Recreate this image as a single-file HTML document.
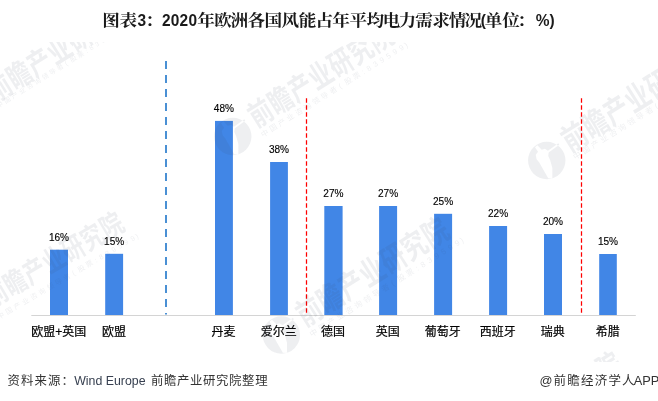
<!DOCTYPE html>
<html lang="zh-CN">
<head>
<meta charset="utf-8">
<title>图表3：2020年欧洲各国风能占年平均电力需求情况</title>
<style>
html,body{margin:0;padding:0;background:#fff;}
body{width:658px;height:401px;overflow:hidden;position:relative;}
svg{display:block;position:absolute;left:0;top:0;}
.t{font-family:"Liberation Sans","Noto Serif CJK SC",serif;font-weight:700;font-size:16px;fill:#1a1a1a;}
.tl{font-size:17px;}
.v{font-family:"Liberation Sans","DejaVu Sans",sans-serif;font-size:10.9px;fill:#000;stroke:#000;stroke-width:0.15px;}
.c{font-family:"Liberation Sans","Noto Sans CJK SC",sans-serif;font-size:12px;fill:#000;stroke:#000;stroke-width:0.2px;}
.f{font-family:"Liberation Sans","Noto Sans CJK SC",sans-serif;font-size:13.05px;fill:#333;}
.w1{font-family:"Liberation Sans","Noto Sans CJK SC",sans-serif;font-weight:700;font-size:30px;}
.w2{font-family:"Liberation Sans","Noto Sans CJK SC",sans-serif;font-size:7.5px;}
</style>
</head>
<body>
<svg width="658" height="401" viewBox="0 0 658 401">
<defs><clipPath id="wmclip"><rect x="0" y="42" width="658" height="320"/></clipPath></defs>
<rect width="658" height="401" fill="#fff"/>
<g id="title"><text class="t" transform="scale(1.1,1)" y="26.3" x="93.00 108.55">图表</text><text class="t tl" transform="scale(0.91,1)" y="25.9" x="150.99">3</text><text class="t" transform="scale(1.1,1)" y="26.3" x="132.07">：</text><text class="t tl" transform="scale(0.91,1)" y="25.9" x="178.08 187.64 197.36 207.14">2020</text><text class="t" transform="scale(1.1,1)" y="26.3" x="179.27 194.73 209.64 224.91 240.55 255.91 271.64 286.91 302.09 317.64 333.09 347.91 362.27 377.55 393.00 407.91 422.27">年欧洲各国风能占年平均电力需求情况</text><text class="t tl" transform="scale(0.91,1)" y="25.9" x="528.27">(</text><text class="t" transform="scale(1.1,1)" y="26.3" x="440.73 456.55 470.25">单位：</text><text class="t tl" transform="scale(0.91,1)" y="25.9" x="588.65 603.82">%)</text></g>
<line x1="31.3" y1="315.5" x2="635.8" y2="315.5" stroke="#d4d4d4" stroke-width="1"/>
<line x1="166" y1="61" x2="166" y2="314.5" stroke="#4a90d4" stroke-width="2" stroke-dasharray="8,6"/>
<line x1="306.5" y1="98.2" x2="306.5" y2="313" stroke="#f00" stroke-width="1.25" stroke-dasharray="4.6,2.4"/>
<line x1="581.5" y1="98.2" x2="581.5" y2="313" stroke="#f00" stroke-width="1.25" stroke-dasharray="4.6,2.4"/>
<rect x="50.0" y="249.7" width="18.0" height="65.3" fill="#4186e6"/>
<text class="v" x="59.0" y="240.7" text-anchor="middle" textLength="20.2" lengthAdjust="spacingAndGlyphs">16%</text>
<text class="c" x="58.7" y="336.0" text-anchor="middle">欧盟+英国</text>
<rect x="105.2" y="253.8" width="17.9" height="61.2" fill="#4186e6"/>
<text class="v" x="114.2" y="244.8" text-anchor="middle" textLength="20.2" lengthAdjust="spacingAndGlyphs">15%</text>
<text class="c" x="113.9" y="336.0" text-anchor="middle">欧盟</text>
<rect x="215.0" y="120.9" width="17.9" height="194.1" fill="#4186e6"/>
<text class="v" x="223.9" y="111.9" text-anchor="middle" textLength="20.2" lengthAdjust="spacingAndGlyphs">48%</text>
<text class="c" x="223.6" y="336.0" text-anchor="middle">丹麦</text>
<rect x="270.1" y="162.0" width="17.8" height="153.0" fill="#4186e6"/>
<text class="v" x="279.0" y="153.0" text-anchor="middle" textLength="20.2" lengthAdjust="spacingAndGlyphs">38%</text>
<text class="c" x="278.7" y="336.0" text-anchor="middle">爱尔兰</text>
<rect x="324.3" y="206.0" width="18.3" height="109.0" fill="#4186e6"/>
<text class="v" x="333.4" y="197.0" text-anchor="middle" textLength="20.2" lengthAdjust="spacingAndGlyphs">27%</text>
<text class="c" x="333.1" y="336.0" text-anchor="middle">德国</text>
<rect x="379.1" y="206.0" width="18.0" height="109.0" fill="#4186e6"/>
<text class="v" x="388.1" y="197.0" text-anchor="middle" textLength="20.2" lengthAdjust="spacingAndGlyphs">27%</text>
<text class="c" x="387.8" y="336.0" text-anchor="middle">英国</text>
<rect x="434.1" y="213.8" width="18.0" height="101.2" fill="#4186e6"/>
<text class="v" x="443.1" y="204.8" text-anchor="middle" textLength="20.2" lengthAdjust="spacingAndGlyphs">25%</text>
<text class="c" x="442.8" y="336.0" text-anchor="middle">葡萄牙</text>
<rect x="489.1" y="226.0" width="18.0" height="89.0" fill="#4186e6"/>
<text class="v" x="498.1" y="217.0" text-anchor="middle" textLength="20.2" lengthAdjust="spacingAndGlyphs">22%</text>
<text class="c" x="497.8" y="336.0" text-anchor="middle">西班牙</text>
<rect x="544.0" y="234.0" width="18.0" height="81.0" fill="#4186e6"/>
<text class="v" x="553.0" y="225.0" text-anchor="middle" textLength="20.2" lengthAdjust="spacingAndGlyphs">20%</text>
<text class="c" x="552.7" y="336.0" text-anchor="middle">瑞典</text>
<rect x="599.2" y="254.0" width="17.6" height="61.0" fill="#4186e6"/>
<text class="v" x="608.0" y="245.0" text-anchor="middle" textLength="20.2" lengthAdjust="spacingAndGlyphs">15%</text>
<text class="c" x="607.7" y="336.0" text-anchor="middle">希腊</text>
<g id="wm" clip-path="url(#wmclip)" fill="#3a4660" fill-opacity="0.085">
<g transform="translate(-0.75,87.4) rotate(-32) scale(1.0)">
<g transform="translate(-36.20,5.60) rotate(32) scale(1.0000)">
<path fill-rule="evenodd" d="M0,-18.7 A18.7,18.7 0 1 1 0,18.7 A18.7,18.7 0 1 1 0,-18.7 Z M-11.8,-13.3 L-9.4,-15.3 L-5,-10.8 L-1.9,-11.6 L1.2,-9.6 L11.6,-17.1 L12.5,-15.8 L1.9,-7.9 L1.5,-4.4 L3.5,0 L5.6,7.5 L5.6,18.1 L1.5,17.8 L-3.7,8.7 L-7.5,2.1 L-10.2,-1.2 L-11,-5.6 L-8.7,-8.7 Z"/>
</g>
<text class="w1" transform="scale(0.77,1)" y="11" x="-15.00 15.65 46.30 76.95 107.60 138.25 168.90">前瞻产业研究院</text>
<text class="w2" transform="translate(-2.3,-2.3) scale(0.88)" y="22.4" x="-11.15 -1.05 9.05 19.15 29.25 39.35 49.45 59.55 69.65 80.25 87.45 97.05 107.76 113.31 121.02 128.71 136.41 144.11 151.81 157.85">中国产业咨询领导者(股票:839599)</text>
</g>
<g transform="translate(260.5,112.5) rotate(-32) scale(1.0)">
<g transform="translate(-36.20,5.60) rotate(32) scale(1.0000)">
<path fill-rule="evenodd" d="M0,-18.7 A18.7,18.7 0 1 1 0,18.7 A18.7,18.7 0 1 1 0,-18.7 Z M-11.8,-13.3 L-9.4,-15.3 L-5,-10.8 L-1.9,-11.6 L1.2,-9.6 L11.6,-17.1 L12.5,-15.8 L1.9,-7.9 L1.5,-4.4 L3.5,0 L5.6,7.5 L5.6,18.1 L1.5,17.8 L-3.7,8.7 L-7.5,2.1 L-10.2,-1.2 L-11,-5.6 L-8.7,-8.7 Z"/>
</g>
<text class="w1" transform="scale(0.77,1)" y="11" x="-15.00 15.65 46.30 76.95 107.60 138.25 168.90">前瞻产业研究院</text>
<text class="w2" transform="translate(0,0) scale(1.0)" y="22.4" x="-11.15 -1.05 9.05 19.15 29.25 39.35 49.45 59.55 69.65 80.25 87.45 97.05 107.76 113.31 121.02 128.71 136.41 144.11 151.81 157.85">中国产业咨询领导者(股票:839599)</text>
</g>
<g transform="translate(574.5,136.5) rotate(-32) scale(1.05)">
<g transform="translate(-34.48,5.33) rotate(32) scale(0.9524)">
<path fill-rule="evenodd" d="M0,-18.7 A18.7,18.7 0 1 1 0,18.7 A18.7,18.7 0 1 1 0,-18.7 Z M-11.8,-13.3 L-9.4,-15.3 L-5,-10.8 L-1.9,-11.6 L1.2,-9.6 L11.6,-17.1 L12.5,-15.8 L1.9,-7.9 L1.5,-4.4 L3.5,0 L5.6,7.5 L5.6,18.1 L1.5,17.8 L-3.7,8.7 L-7.5,2.1 L-10.2,-1.2 L-11,-5.6 L-8.7,-8.7 Z"/>
</g>
<text class="w1" transform="scale(0.77,1)" y="11" x="-15.00 15.65 46.30 76.95 107.60 138.25 168.90">前瞻产业研究院</text>
<text class="w2" transform="translate(0,-3) scale(1.0)" y="22.4" x="-11.15 -1.05 9.05 19.15 29.25 39.35 49.45 59.55 69.65 80.25 87.45 97.05 107.76 113.31 121.02 128.71 136.41 144.11 151.81 157.85">中国产业咨询领导者(股票:839599)</text>
</g>
<g transform="translate(-4.1,293.4) rotate(-30.4) scale(0.947)">
<g transform="translate(-38.23,5.91) rotate(30.4) scale(1.0560)">
<path fill-rule="evenodd" d="M0,-18.7 A18.7,18.7 0 1 1 0,18.7 A18.7,18.7 0 1 1 0,-18.7 Z M-11.8,-13.3 L-9.4,-15.3 L-5,-10.8 L-1.9,-11.6 L1.2,-9.6 L11.6,-17.1 L12.5,-15.8 L1.9,-7.9 L1.5,-4.4 L3.5,0 L5.6,7.5 L5.6,18.1 L1.5,17.8 L-3.7,8.7 L-7.5,2.1 L-10.2,-1.2 L-11,-5.6 L-8.7,-8.7 Z"/>
</g>
<text class="w1" transform="scale(0.77,1)" y="11" x="-15.00 15.65 46.30 76.95 107.60 138.25 168.90">前瞻产业研究院</text>
<text class="w2" transform="translate(0,3.2) scale(1.0)" y="22.4" x="-11.15 -1.05 9.05 19.15 29.25 39.35 49.45 59.55 69.65 80.25 87.45 97.05 107.76 113.31 121.02 128.71 136.41 144.11 151.81 157.85">中国产业咨询领导者(股票:839599)</text>
</g>
<g transform="translate(309.1,311) rotate(-32) scale(1.05)">
<g transform="translate(-34.48,5.33) rotate(32) scale(0.9524)">
<path fill-rule="evenodd" d="M0,-18.7 A18.7,18.7 0 1 1 0,18.7 A18.7,18.7 0 1 1 0,-18.7 Z M-11.8,-13.3 L-9.4,-15.3 L-5,-10.8 L-1.9,-11.6 L1.2,-9.6 L11.6,-17.1 L12.5,-15.8 L1.9,-7.9 L1.5,-4.4 L3.5,0 L5.6,7.5 L5.6,18.1 L1.5,17.8 L-3.7,8.7 L-7.5,2.1 L-10.2,-1.2 L-11,-5.6 L-8.7,-8.7 Z"/>
</g>
<text class="w1" transform="scale(0.77,1)" y="11" x="-15.00 15.65 46.30 76.95 107.60 138.25 168.90">前瞻产业研究院</text>
<text class="w2" transform="translate(0,0) scale(1.0)" y="22.4" x="-11.15 -1.05 9.05 19.15 29.25 39.35 49.45 59.55 69.65 80.25 87.45 97.05 107.76 113.31 121.02 128.71 136.41 144.11 151.81 157.85">中国产业咨询领导者(股票:839599)</text>
</g>
<g transform="translate(489,441) rotate(-32) scale(1.0)">
<g transform="translate(-36.20,5.60) rotate(32) scale(1.0000)">
<path fill-rule="evenodd" d="M0,-18.7 A18.7,18.7 0 1 1 0,18.7 A18.7,18.7 0 1 1 0,-18.7 Z M-11.8,-13.3 L-9.4,-15.3 L-5,-10.8 L-1.9,-11.6 L1.2,-9.6 L11.6,-17.1 L12.5,-15.8 L1.9,-7.9 L1.5,-4.4 L3.5,0 L5.6,7.5 L5.6,18.1 L1.5,17.8 L-3.7,8.7 L-7.5,2.1 L-10.2,-1.2 L-11,-5.6 L-8.7,-8.7 Z"/>
</g>
<text class="w1" transform="scale(0.77,1)" y="11" x="-15.00 15.65 46.30 76.95 107.60 138.25 168.90">前瞻产业研究院</text>
<text class="w2" transform="translate(0,0) scale(1.0)" y="22.4" x="-11.15 -1.05 9.05 19.15 29.25 39.35 49.45 59.55 69.65 80.25 87.45 97.05 107.76 113.31 121.02 128.71 136.41 144.11 151.81 157.85">中国产业咨询领导者(股票:839599)</text>
</g>
</g>
<text class="f" y="385.1" style="font-size:12.4px"><tspan x="7.5" letter-spacing="1.1">资料来源：</tspan><tspan x="74.2" font-size="12.35" fill="#374050">Wind Europe</tspan><tspan x="150.9" letter-spacing="0.64">前瞻产业研究院整理</tspan></text>
<text class="f" y="385.2" style="font-size:12.5px"><tspan x="539.6" font-size="12.8">@</tspan><tspan x="553.5" letter-spacing="1.22">前瞻经济学人</tspan><tspan x="633.7" font-size="12.8">APP</tspan></text>
</svg>
</body>
</html>
